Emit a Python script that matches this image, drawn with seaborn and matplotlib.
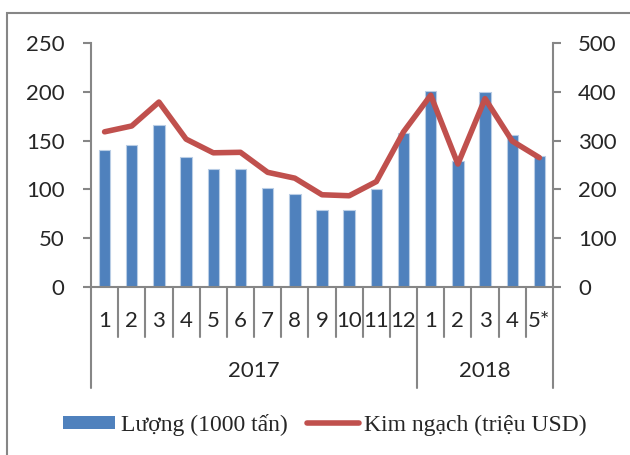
import numpy as np
import pandas as pd
import matplotlib
matplotlib.use('Agg')
import matplotlib.pyplot as plt
import seaborn as sns
from matplotlib.patches import Patch, Rectangle
from matplotlib.lines import Line2D

# data
months = ['1', '2', '3', '4', '5', '6', '7', '8', '9', '10', '11', '12',
          '1', '2', '3', '4', '5*']
years = ['2017'] * 12 + ['2018'] * 5
luong = [140, 145, 166, 133, 121, 121, 101, 95, 79, 79, 100, 158,
         201, 129, 200, 156, 134]
kim_ngach = [318, 330, 379, 303, 275, 276, 235, 223, 189, 187, 216, 318,
             393, 252, 386, 299, 265]

BLUE = '#4F81BD'
RED = '#C0504D'
GRAY = '#868686'

df = pd.DataFrame({'key': [f'{y}-{m}' for y, m in zip(years, months)],
                   'luong': luong, 'kim_ngach': kim_ngach})
df['pos'] = np.arange(len(df))

sns.set_style('white')
plt.rcParams['font.family'] = ['Lato', 'DejaVu Sans']

fig = plt.figure(figsize=(6.3, 4.55), dpi=100)
ax = fig.add_axes([91 / 630, 1 - 287 / 455, (553 - 91) / 630, (287 - 43) / 455])

sns.barplot(data=df, x='key', y='luong', ax=ax, color=BLUE, saturation=1,
            width=0.42, edgecolor='#b9cde5', linewidth=0.8)
ax2 = ax.twinx()
sns.lineplot(data=df, x='pos', y='kim_ngach', ax=ax2, color=RED, linewidth=4,
             solid_capstyle='round', solid_joinstyle='round')

n = len(df)
ax.set_xlim(-0.5, n - 0.5)
ax2.set_xlim(-0.5, n - 0.5)
ax.set_ylim(0, 250)
ax2.set_ylim(0, 500)
ax.set_yticks(range(0, 251, 50))
ax2.set_yticks(range(0, 501, 100))
ax.set_xticks([])
ax.set_xlabel('')
ax.set_ylabel('')
ax2.set_ylabel('')

for a in (ax, ax2):
    for s in a.spines.values():
        s.set_visible(False)
ax.spines['left'].set_visible(True)
ax.spines['bottom'].set_visible(True)
ax2.spines['right'].set_visible(True)
for s in (ax.spines['left'], ax.spines['bottom'], ax2.spines['right']):
    s.set_color(GRAY)
    s.set_linewidth(1.5)

ax.tick_params(axis='y', left=True, length=6, width=1.5, color=GRAY,
               labelsize=16, pad=13)
ax2.tick_params(axis='y', right=True, length=6, width=1.5, color=GRAY,
                labelsize=16, pad=12)

# multi-level category axis
tr = ax.get_xaxis_transform()
ah = 287 - 43
for i in range(n + 1):
    x = i - 0.5
    year_edge = i in (0, 12, n)
    y1 = -(388 - 287) / ah if year_edge else -(337 - 287) / ah
    ax.plot([x, x], [0, y1], transform=tr, color=GRAY, lw=1.5, clip_on=False)
for i, m in enumerate(months):
    ax.text(i, -(321 - 287) / ah, m, transform=tr, ha='center', va='center',
            fontsize=16)
for y in ['2017', '2018']:
    idx = [i for i, yy in enumerate(years) if yy == y]
    ax.text((idx[0] + idx[-1]) / 2, -(371 - 287) / ah, y, transform=tr,
            ha='center', va='center', fontsize=16)

# legend
handles = [Patch(facecolor=BLUE, edgecolor='none'),
           Line2D([], [], color=RED, lw=4, solid_capstyle='round')]
fig.legend(handles, ['Lượng (1000 tấn)', 'Kim ngạch (triệu USD)'],
           loc='center', bbox_to_anchor=(0.516, 1 - 425 / 455), ncol=2,
           frameon=False, prop={'family': 'Liberation Serif', 'size': 17},
           handlelength=2.2, handleheight=0.5, handletextpad=0.25,
           columnspacing=0.8)

# outer frame
fig.add_artist(Rectangle((7 / 630, -0.1), 2, 1 - 13 / 455 + 0.1,
                         transform=fig.transFigure, fill=False,
                         edgecolor=GRAY, lw=1.5))

fig.savefig('out.png', dpi=100)
